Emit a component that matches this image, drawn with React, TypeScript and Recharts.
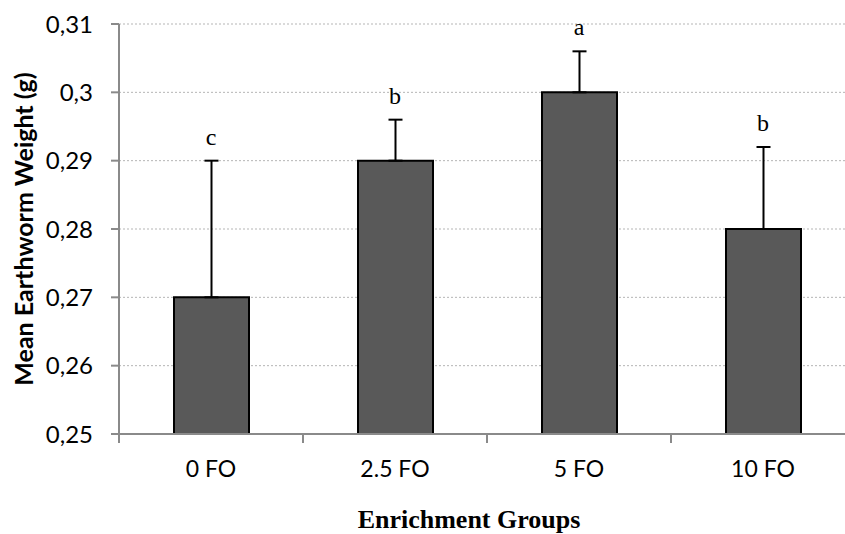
import {
  ComposedChart,
  Bar,
  Line,
  XAxis,
  YAxis,
  CartesianGrid,
  ErrorBar,
  LabelList,
} from 'recharts';

const groups = ['0 FO', '2.5 FO', '5 FO', '10 FO'];
const meanWeight = [0.27, 0.29, 0.3, 0.28];
const errUp = [0.02, 0.006, 0.006, 0.012];
const letters = ['c', 'b', 'a', 'b'];
const yTicks = [0.25, 0.26, 0.27, 0.28, 0.29, 0.3, 0.31];

const data = groups.map((g, i) => ({
  group: g,
  weight: meanWeight[i],
  err: [0, errUp[i]],
  top: meanWeight[i] + errUp[i],
  letter: letters[i],
}));

const CHART_W = 870;
const CHART_H = 534;
const Y_W = 119;
const M_RIGHT = 15;
const BAND = (CHART_W - Y_W - M_RIGHT) / groups.length;

const axisGrey = '#8a8a8a';
const sans = 'Lato, "Open Sans", sans-serif';
const serif = '"Liberation Serif", "Times New Roman", serif';

function GroupTick(props: any) {
  const { x, y, payload } = props;
  const left = x - BAND / 2;
  return (
    <g>
      <line x1={left} y1={y} x2={left} y2={y + 9} stroke={axisGrey} strokeWidth={2} />
      <text x={x} y={y + 43} textAnchor="middle" fontFamily={sans} fontSize={23} fill="#000">
        {payload.value}
      </text>
    </g>
  );
}

export default function App() {
  return (
    <div
      style={{
        position: 'absolute',
        left: 0,
        top: 0,
        width: 845,
        height: 534,
        overflow: 'hidden',
        background: '#fff',
      }}
    >
      <ComposedChart
        width={CHART_W}
        height={CHART_H}
        data={data}
        margin={{ top: 24, right: M_RIGHT, bottom: 0, left: 0 }}
      >
        <CartesianGrid vertical={false} stroke="#b5b5b5" strokeDasharray="2 2" />
        <XAxis
          dataKey="group"
          height={100}
          axisLine={{ stroke: axisGrey, strokeWidth: 2 }}
          tickLine={false}
          tickSize={0}
          tickMargin={0}
          tick={<GroupTick />}
          label={{
            value: 'Enrichment Groups',
            position: 'insideBottom',
            offset: 6,
            dx: -18,
            style: { fontFamily: serif, fontSize: 26, fontWeight: 'bold', fill: '#000' },
          }}
        />
        <YAxis
          width={Y_W}
          domain={[0.25, 0.31]}
          ticks={yTicks}
          allowDataOverflow
          tickFormatter={(v: number) => String(Number(v.toFixed(2))).replace('.', ',')}
          axisLine={{ stroke: axisGrey, strokeWidth: 2 }}
          tickLine={{ stroke: axisGrey, strokeWidth: 2 }}
          tickSize={8}
          tickMargin={18}
          tick={{ fontFamily: sans, fontSize: 24, fill: '#000' }}
          label={{
            value: 'Mean Earthworm Weight (g)',
            angle: -90,
            position: 'insideLeft',
            offset: 24,
            style: { fontFamily: sans, fontSize: 25, fontWeight: 'bold', fill: '#000', textAnchor: 'middle' },
          }}
        />
        <Bar
          dataKey="weight"
          barSize={75}
          fill="#595959"
          stroke="#000"
          strokeWidth={2}
          isAnimationActive={false}
        >
          <ErrorBar dataKey="err" direction="y" width={7} stroke="#000" strokeWidth={2} />
        </Bar>
        <Line
          dataKey="top"
          stroke="none"
          dot={false}
          activeDot={false}
          isAnimationActive={false}
        >
          <LabelList
            dataKey="letter"
            position="top"
            offset={16}
            style={{ fontFamily: serif, fontSize: 24, fill: '#000' }}
          />
        </Line>
      </ComposedChart>
    </div>
  );
}
